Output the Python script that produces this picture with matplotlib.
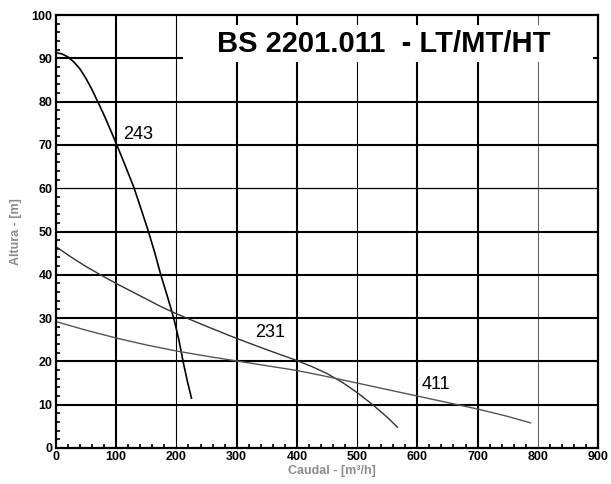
import matplotlib
matplotlib.use("Agg")
import matplotlib.pyplot as plt
from matplotlib.patches import Rectangle
from matplotlib.ticker import MultipleLocator

plt.rcParams['font.family'] = ['Liberation Sans', 'DejaVu Sans']

# pump curves: flow (m3/h) vs head (m)
q_243 = [0, 10, 20, 30, 40, 50, 60, 70, 80, 90, 101, 115, 129, 141, 153, 164, 174, 185, 195.5, 204, 211, 218, 225]
h_243 = [91.3, 91.0, 90.3, 89.1, 87.5, 85.3, 82.7, 79.8, 76.8, 73.6, 70, 65.2, 60.3, 55.3, 50.2, 45.1, 40, 35, 30, 25, 20, 15.5, 11.5]

q_231 = [0, 25, 50, 75, 100, 125, 150, 175, 200, 250, 300, 350, 400, 425, 450, 475, 500, 525, 550, 567]
h_231 = [46.5, 44.1, 41.9, 39.9, 38.0, 36.2, 34.4, 32.6, 31.0, 28.1, 25.3, 22.7, 20.2, 18.8, 17.2, 15.2, 12.8, 10.1, 7.1, 4.8]

q_411 = [0, 25, 50, 75, 100, 125, 150, 175, 200, 250, 300, 350, 400, 450, 500, 540, 600, 650, 700, 750, 788]
h_411 = [29.2, 28.2, 27.2, 26.3, 25.4, 24.6, 23.8, 23.1, 22.4, 21.2, 20.1, 19.0, 17.9, 16.5, 15.0, 13.8, 12.0, 10.5, 9.0, 7.3, 5.8]

curve_names = ["243", "231", "411"]
label_pos = [(137, 72.4), (356, 26.7), (631, 14.7)]

x_ticks = list(range(0, 1000, 100))
y_ticks = list(range(0, 110, 10))
x_thin = {200: 'black', 500: 'black', 800: '#666666'}
y_thin = {60: 'black'}

title = "BS 2201.011  - LT/MT/HT"

fig = plt.figure(figsize=(6.11, 4.84), dpi=100)
ax = fig.add_axes([56 / 611, 36 / 484, 542 / 611, 433 / 484])

ax.set_xlim(0, 900)
ax.set_ylim(0, 100)
ax.set_xticks(x_ticks)
ax.set_yticks(y_ticks)

# grid drawn by hand so single lines can be thinner
for v in x_ticks[1:-1]:
    if v in x_thin:
        ax.axvline(v, color=x_thin[v], lw=0.8, zorder=1)
    else:
        ax.axvline(v, color='black', lw=1.5, zorder=1)
for v in y_ticks[1:-1]:
    if v in y_thin:
        ax.axhline(v, color=y_thin[v], lw=0.9, zorder=1)
    else:
        ax.axhline(v, color='black', lw=1.5, zorder=1)

# white panel behind the title
ax.add_patch(Rectangle((211, 89.2), 680, 8.5, facecolor='white',
                       edgecolor='none', zorder=2))
ax.text(545, 93.4, title, fontsize=21, fontweight='bold',
        ha='center', va='center', zorder=5)

ax.plot(q_243, h_243, color='black', lw=1.2, zorder=3)
ax.plot(q_231, h_231, color='#333333', lw=1.0, zorder=3)
ax.plot(q_411, h_411, color='#555555', lw=1.0, zorder=3)

for name, (lx, ly) in zip(curve_names, label_pos):
    ax.text(lx, ly, name, fontsize=13, ha='center', va='center', zorder=5)

for s in ax.spines.values():
    s.set_linewidth(1.6)
    s.set_zorder(4)

ax.xaxis.set_minor_locator(MultipleLocator(20))
ax.yaxis.set_minor_locator(MultipleLocator(2))
ax.tick_params(which='major', length=0, pad=2.5, labelsize=9)
ax.tick_params(which='minor', direction='in', length=3, width=1.2)
for lab in ax.get_xticklabels() + ax.get_yticklabels():
    lab.set_fontweight('bold')

ax.set_xlabel("Caudal - [m³/h]", fontsize=9, fontweight='bold', color='#8c8c8c')
ax.set_ylabel("Altura - [m]", fontsize=9, fontweight='bold', color='#8c8c8c')
ax.xaxis.set_label_coords(0.509, -0.040)
ax.yaxis.set_label_coords(-0.062, 0.499)

fig.savefig("out.png", dpi=100)
